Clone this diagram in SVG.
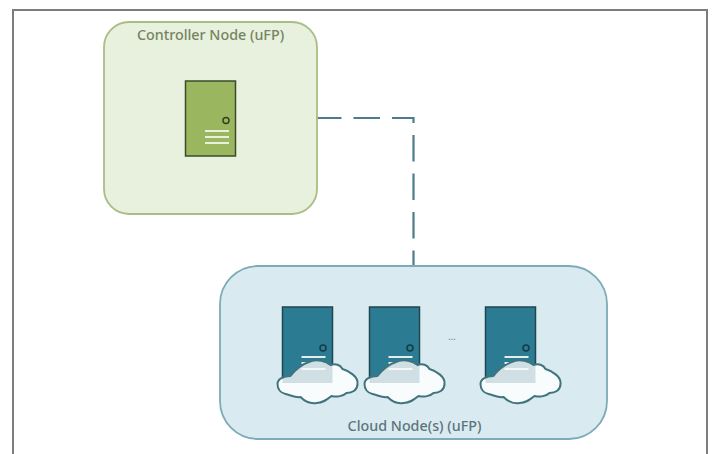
<svg xmlns="http://www.w3.org/2000/svg" width="715" height="454" viewBox="0 0 715 454">
<style>
text{font-family:"Noto Sans","Open Sans","Liberation Sans",sans-serif;font-size:14.300px;text-anchor:middle;font-weight:500}
.door{fill:#2b7c93;stroke:#20464f;stroke-width:1.5}
.bar{stroke:#e3eef0;stroke-width:2;fill:none}
.barg{stroke:#e9f0da;stroke-width:2;fill:none}
.cloud{fill:#f8fcfd}
.outline{fill:none;stroke:#41737f;stroke-width:2;stroke-linejoin:round}
</style>
<defs>
<path id="cl" d="M-34 20 C-34 15 -28 12 -21 12 C-16 5 -9 0 0 -3 C6 -5 14 -3 19 1 C24 -1 29 1 31 5 C38 7 47 13 46 20 C46 26 41 29 35 29 C31 33 24 33 20 32 C15 36 11 39 5 39 C-1 40 -7 37 -11 33 C-16 34 -21 31 -26 30 C-31 29 -34 25 -34 20 Z"/>
<clipPath id="clc"><use href="#cl" x="29" y="57"/></clipPath>
<g id="srv">
<rect class="door" x="0" y="0" width="50" height="75"/>
<circle cx="40.500" cy="41" r="3" fill="none" stroke="#173b45" stroke-width="1.5"/>
<path class="bar" d="M19 50H43M19 56H43"/>
<use href="#cl" class="cloud" x="29" y="57"/>
<rect x="0" y="50" width="50" height="26" fill="#cfdfe4" clip-path="url(#clc)"/>
<path d="M19 62H43" stroke="#f2f7f8" stroke-width="2"/>
<use href="#cl" class="outline" x="29" y="57"/>
</g>
</defs>
<rect id="frame" x="13" y="10" width="694" height="450" fill="#fff" stroke="#7d7d7d" stroke-width="2"/>
<g id="connectors"><path d="M315 118H413.500V267" fill="none" stroke="#4d7d8c" stroke-width="2.200" stroke-dasharray="26.500 12"/></g>
<g id="controller">
<rect x="104" y="22" width="213" height="192" rx="25" fill="#e8f0de" stroke="#a9bd85" stroke-width="1.8"/>
<text x="210.500" y="40" fill="#75845f">Controller Node (uFP)</text>
<rect x="185.500" y="81" width="50" height="75" fill="#9ab75f" stroke="#3c4a2a" stroke-width="1.5"/>
<circle cx="226" cy="120.500" r="3" fill="none" stroke="#34401f" stroke-width="1.5"/>
<path class="barg" d="M205 131H229M205 137H229M205 143H229"/>
</g>
<g id="cloud-nodes">
<rect x="220" y="266" width="387" height="173" rx="38" fill="#d9ebf0" stroke="#7dabb8" stroke-width="1.8"/>
<use href="#srv" x="282.500" y="307"/>
<use href="#srv" x="369.500" y="307"/>
<use href="#srv" x="485.500" y="307"/>
<text x="452" y="340" fill="#6f8087" style="font-size:9px">...</text>
<text x="414.500" y="431" fill="#5d747c">Cloud Node(s) (uFP)</text>
</g>
</svg>
